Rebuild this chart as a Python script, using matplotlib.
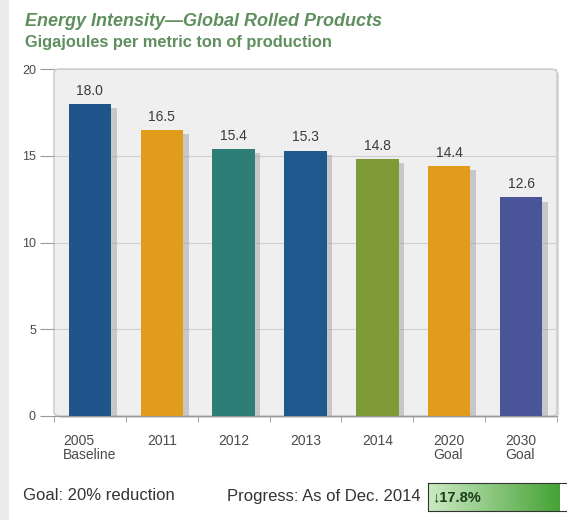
import numpy as np
import matplotlib
matplotlib.use('Agg')
import matplotlib.pyplot as plt
import matplotlib.patheffects as pe
from matplotlib.patches import FancyBboxPatch, Rectangle

categories = ['2005\nBaseline', '2011', '2012', '2013', '2014', '2020\nGoal', '2030\nGoal']
values = [18.0, 16.5, 15.4, 15.3, 14.8, 14.4, 12.6]
bar_colors = ['#1f558a', '#e29c1c', '#2e7e78', '#1f588c', '#7e9a36', '#e29c1c', '#4a5498']
goal_pct = 20.0
progress_pct = 17.8

plt.rcParams['font.family'] = ['Liberation Sans', 'DejaVu Sans']

fig = plt.figure(figsize=(5.67, 5.20), dpi=100)
fig.patch.set_facecolor('white')

# left page edge stripe
fig.patches.append(Rectangle((0, 0), 9 / 567, 1, transform=fig.transFigure,
                             facecolor='#ececec', edgecolor='none'))

ax = fig.add_axes([54 / 567, 1 - 416 / 520, (557 - 54) / 567, (416 - 69) / 520])
ax.set_facecolor('none')
# rounded plot background
bg = FancyBboxPatch((0, 0), 1, 1, boxstyle='round,pad=0,rounding_size=0.012',
                    transform=ax.transAxes, facecolor='#efefef', edgecolor='#c8c8c8',
                    linewidth=1.0, zorder=0, clip_on=False)
bg.set_path_effects([pe.SimplePatchShadow(offset=(1.5, -1.5), shadow_rgbFace='#bbbbbb', alpha=0.5),
                     pe.Normal()])
ax.add_patch(bg)

x = np.arange(len(values))
bars = ax.bar(x, values, width=0.59, color=bar_colors, zorder=3)
for b in bars:
    b.set_path_effects([pe.SimplePatchShadow(offset=(4, -3), shadow_rgbFace='#a0a0a0', alpha=0.5),
                        pe.Normal()])
for xi, v in zip(x, values):
    ax.text(xi, v + 0.35, f'{v:.1f}', ha='center', va='bottom', fontsize=10, color='#3a3a3a')

ax.set_xlim(-0.5, len(values) - 0.5)
ax.set_ylim(0, 20)
ax.set_yticks([0, 5, 10, 15, 20])
ax.yaxis.grid(True, color='#cfcfcf', linewidth=0.8, zorder=1)
ax.set_axisbelow(True)
ax.set_xticks(x)
ax.set_xticklabels(categories, fontsize=10, color='#4a4a4a', linespacing=0.95,
                   multialignment='left')
ax.set_xticks(np.arange(len(values) + 1) - 0.5, minor=True)
ax.tick_params(axis='x', which='major', length=0, pad=13)
ax.tick_params(axis='x', which='minor', length=4, color='#999999')
ax.tick_params(axis='y', length=10, color='#999999', labelsize=9, labelcolor='#4a4a4a', pad=3)
for s in ['top', 'right']:
    ax.spines[s].set_visible(False)
ax.spines['left'].set_visible(False)
ax.spines['bottom'].set_color('#999999')

# titles
fig.text(25 / 567, 1 - 21 / 520, 'Energy Intensity\u2014Global Rolled Products', fontsize=13,
         fontweight='bold', style='italic', color='#5f8f5f', va='center')
fig.text(25 / 567, 1 - 43 / 520, 'Gigajoules per metric ton of production', fontsize=11.8,
         fontweight='bold', color='#5f8f5f', va='center')

# bottom goal / progress
fig.text(23 / 567, 1 - 496 / 520, f'Goal: {goal_pct:.0f}% reduction', fontsize=12,
         color='#333333', va='center')
fig.text(227 / 567, 1 - 496 / 520, 'Progress: As of Dec. 2014', fontsize=12,
         color='#333333', va='center')

pax = fig.add_axes([428 / 567, 1 - 511 / 520, 148 / 567, 28 / 520])
frac = progress_pct / goal_pct
grad = np.linspace(0, 1, 256).reshape(1, -1)
cmap = matplotlib.colors.LinearSegmentedColormap.from_list('g', ['#cdeac4', '#45a235'])
pax.imshow(grad, extent=[0, frac, 0, 1], aspect='auto', cmap=cmap)
pax.set_xlim(0, 1)
pax.set_ylim(0, 1)
pax.set_xticks([])
pax.set_yticks([])
for s in pax.spines.values():
    s.set_color('#333333')
    s.set_linewidth(0.8)
pax.text(0.03, 0.5, f'\u2193{progress_pct:.1f}%', fontsize=10.5, fontweight='bold',
         color='#1a3a1a', va='center', transform=pax.transAxes)

fig.savefig('out.png', dpi=100)
